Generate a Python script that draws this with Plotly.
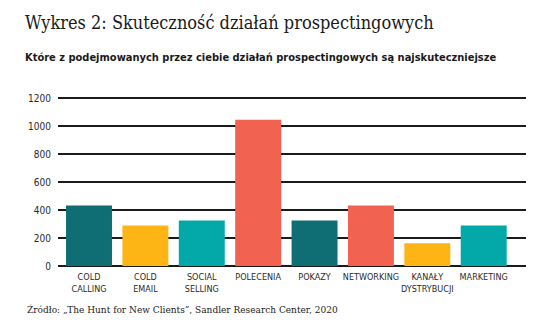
import plotly.graph_objects as go

categories = ["COLD<br>CALLING", "COLD<br>EMAIL", "SOCIAL<br>SELLING", "POLECENIA",
              "POKAZY", "NETWORKING", "KANAŁY<br>DYSTRYBUCJI", "MARKETING"]
values = [432, 290, 325, 1045, 325, 432, 162, 290]
colors = ["#0E6E73", "#FDB515", "#03A9A9", "#F26250",
          "#0E6E73", "#F26250", "#FDB515", "#03A9A9"]
y_ticks = [0, 200, 400, 600, 800, 1000, 1200]

cond = "DejaVu Sans Condensed"
serif = "DejaVu Serif Condensed, DejaVu Serif, serif"

fig = go.Figure(go.Bar(
    x=list(range(len(categories))), y=values, marker_color=colors,
    marker_line_width=0, width=0.815, hoverinfo="skip"))

fig.update_layout(
    width=540, height=328,
    margin=dict(l=58, r=14, t=94, b=62),
    paper_bgcolor="white", plot_bgcolor="white",
    showlegend=False,
    xaxis=dict(range=[-0.55, 7.75], tickmode="array",
               tickvals=list(range(len(categories))), ticktext=categories,
               tickangle=0, ticklabelstandoff=4,
               tickfont=dict(family=cond, size=9, color="#2a2a2a"),
               showgrid=False, zeroline=False, showline=False, ticks=""),
    yaxis=dict(range=[0, 1230], tickvals=y_ticks,
               tickfont=dict(family=cond, size=10, color="#2a2a2a"),
               showgrid=True, gridcolor="#1a1a1a", gridwidth=1.5,
               zeroline=True, zerolinecolor="#1a1a1a", zerolinewidth=2,
               showline=False, ticks="", ticklabelstandoff=6),
    annotations=[
        dict(text="Wykres 2: Skuteczność działań prospectingowych",
             xref="paper", yref="paper", x=-0.075, y=1.0, xanchor="left",
             yanchor="bottom", yshift=59, showarrow=False,
             font=dict(family=serif, size=18, color="#1a1a1a")),
        dict(text="<b>Które z podejmowanych przez ciebie działań prospectingowych są najskuteczniejsze</b>",
             xref="paper", yref="paper", x=-0.075, y=1.0, xanchor="left",
             yanchor="bottom", yshift=28, showarrow=False,
             font=dict(family=cond, size=11, color="#1a1a1a")),
        dict(text="Źródło: „The Hunt for New Clients”, Sandler Research Center, 2020",
             xref="paper", yref="paper", x=-0.07, y=0, xanchor="left",
             yanchor="top", yshift=-36, showarrow=False,
             font=dict(family=serif, size=10, color="#222222")),
    ],
)

fig.write_html("out.html")
